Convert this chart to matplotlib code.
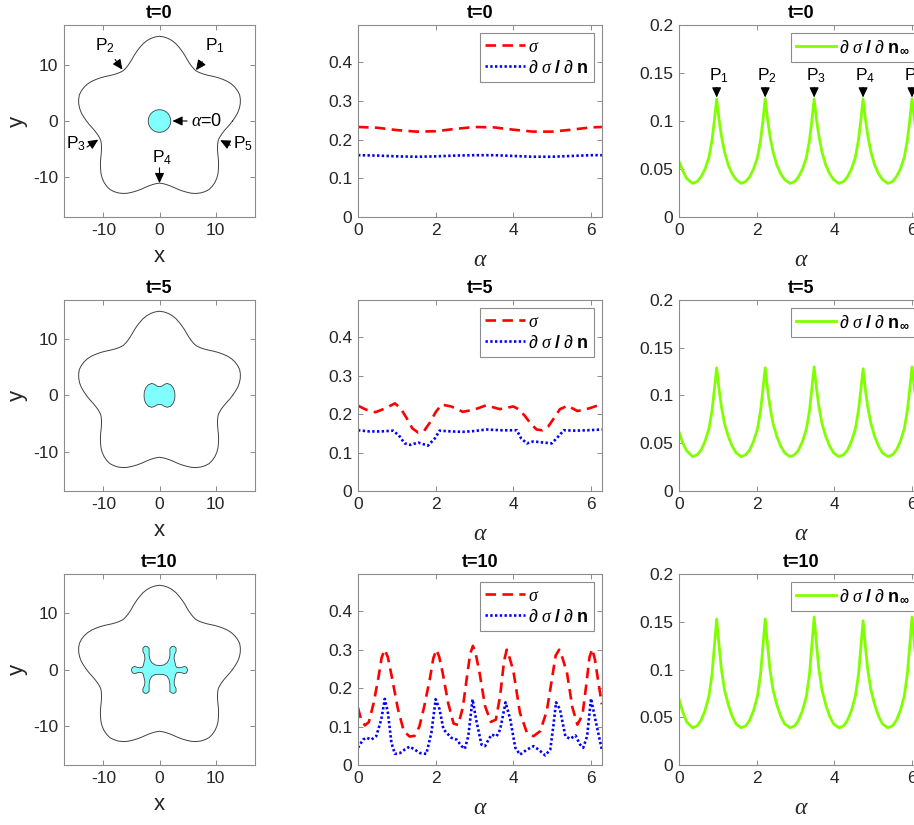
#!/usr/bin/env python3
"""Shrinking inclusion in a five-lobed domain: shape, sigma and its normal
derivatives along the boundary at t=0, 5, 10.

Output:
    out.png
"""

import numpy as np
import matplotlib

matplotlib.use("Agg")
import matplotlib.pyplot as plt  # noqa: E402
from matplotlib.patches import Circle, Polygon  # noqa: E402

W, H = 914, 825
TIMES = ["t=0", "t=5", "t=10"]

# outer boundary: radius read every 3 degrees over one lobe (72 deg), five equal lobes
LOBE_DEG_STEP = 3
LOBE_RADIUS = [13.0, 13.5, 14.0, 14.4, 14.7, 14.9, 15.0, 14.9, 14.7, 14.4, 14.0, 13.5,
               13.0, 12.5, 12.0, 11.6, 11.3, 11.1, 11.0, 11.1, 11.3, 11.6, 12.0, 12.5]
N_LOBES = 5

# inner region
INNER_RADIUS_T0 = 2.0
INNER_T5_X = [2.75, 2.7, 2.45, 2.0, 1.4, 0.9, 0.4, 0.0, -0.4, -0.9, -1.4, -2.0, -2.45, -2.7,
              -2.75, -2.7, -2.45, -2.0, -1.4, -0.9, -0.4, 0.0, 0.4, 0.9, 1.4, 2.0, 2.45, 2.7]
INNER_T5_Y = [0.0, 0.7, 1.35, 1.9, 2.15, 2.0, 1.65, 1.58, 1.65, 2.0, 2.15, 1.9, 1.35, 0.7,
              0.0, -0.7, -1.35, -1.9, -2.1, -1.95, -1.65, -1.58, -1.65, -1.95, -2.1, -1.9, -1.35, -0.7]
INNER_T10_X = [5.0, 4.85, 4.45, 4.0, 3.5, 3.05, 2.85, 2.75, 2.6, 2.65, 2.95, 2.95, 2.6, 2.2,
               1.85, 1.85, 1.85, 1.7, 1.35, 0.75, 0.0, -0.75, -1.35, -1.7, -1.85, -1.85, -1.85,
               -2.2, -2.6, -2.95, -2.95, -2.65, -2.6, -2.75, -2.85, -3.05, -3.5, -4.0, -4.45,
               -4.85, -5.0, -4.85, -4.45, -4.0, -3.5, -3.05, -2.85, -2.75, -2.6, -2.65, -2.95,
               -2.95, -2.6, -2.2, -1.85, -1.85, -1.85, -1.7, -1.35, -0.75, 0.0, 0.75, 1.35, 1.7,
               1.85, 1.85, 1.85, 2.2, 2.6, 2.95, 2.95, 2.65, 2.6, 2.75, 2.85, 3.05, 3.5, 4.0,
               4.45, 4.85]
INNER_T10_Y = [-0.1, 0.35, 0.55, 0.4, 0.3, 0.4, 0.75, 1.3, 1.9, 2.6, 3.2, 3.8, 4.15, 4.1,
               3.75, 3.2, 2.5, 1.8, 1.2, 0.8, 0.7, 0.8, 1.2, 1.8, 2.5, 3.2, 3.75,
               4.1, 4.15, 3.8, 3.2, 2.6, 1.9, 1.3, 0.75, 0.4, 0.3, 0.4, 0.55,
               0.35, -0.1, -0.55, -0.75, -0.6, -0.5, -0.6, -0.95, -1.5, -2.1, -2.8, -3.4,
               -3.95, -4.25, -4.2, -3.9, -3.3, -2.6, -1.8, -1.2, -0.9, -0.85, -0.9, -1.2, -1.8,
               -2.6, -3.3, -3.9, -4.2, -4.25, -3.95, -3.4, -2.8, -2.1, -1.5, -0.95, -0.6, -0.5, -0.6,
               -0.75, -0.55]

# sigma and d sigma / d n along the inner boundary
SIGMA_T0_ALPHA = [0, 0.5, 1.0, 1.5, 2.0, 2.5, 3.0, 3.5, 4.0, 4.5, 5.0, 5.5, 6.0, 6.28]
SIGMA_T0 = [0.233, 0.231, 0.225, 0.221, 0.222, 0.228, 0.233, 0.232, 0.226, 0.221, 0.221,
            0.226, 0.232, 0.233]
DSDN_T0_ALPHA = SIGMA_T0_ALPHA
DSDN_T0 = [0.160, 0.159, 0.157, 0.156, 0.157, 0.159, 0.160, 0.160, 0.158, 0.156, 0.156,
           0.158, 0.160, 0.160]

SIGMA_T5_ALPHA = [0, 0.2, 0.45, 0.7, 0.95, 1.1, 1.25, 1.4, 1.55, 1.7, 1.85, 2.0, 2.15, 2.4,
                  2.7, 3.0, 3.3, 3.65, 4.0, 4.15, 4.3, 4.45, 4.6, 4.75, 4.9, 5.05, 5.2, 5.4,
                  5.65, 5.95, 6.28]
SIGMA_T5 = [0.222, 0.212, 0.205, 0.215, 0.228, 0.215, 0.190, 0.163, 0.152, 0.156, 0.178,
            0.205, 0.225, 0.220, 0.206, 0.212, 0.223, 0.213, 0.220, 0.212, 0.195, 0.175,
            0.160, 0.158, 0.168, 0.190, 0.213, 0.222, 0.208, 0.215, 0.226]
DSDN_T5_ALPHA = [0, 0.3, 0.6, 0.9, 1.05, 1.2, 1.35, 1.55, 1.8, 1.98, 2.1, 2.4, 2.7, 3.0, 3.3,
                 3.7, 4.09, 4.2, 4.35, 4.52, 4.78, 4.99, 5.16, 5.3, 5.6, 5.9, 6.28]
DSDN_T5 = [0.158, 0.155, 0.155, 0.157, 0.145, 0.124, 0.120, 0.126, 0.118, 0.137, 0.157,
           0.155, 0.154, 0.156, 0.160, 0.158, 0.158, 0.137, 0.124, 0.129, 0.126, 0.124,
           0.142, 0.158, 0.157, 0.158, 0.160]

SIGMA_T10_ALPHA = [0.00, 0.08, 0.18, 0.28, 0.40, 0.52, 0.61, 0.69, 0.77, 0.86, 1.03, 1.18,
                   1.33, 1.46, 1.58, 1.70, 1.85, 1.94, 2.02, 2.09, 2.18, 2.32, 2.46, 2.58,
                   2.70, 2.82, 2.89, 2.96, 3.03, 3.13, 3.27, 3.42, 3.55, 3.66, 3.76, 3.83,
                   3.90, 4.00, 4.17, 4.35, 4.52, 4.69, 4.86, 4.98, 5.09, 5.18, 5.26, 5.38,
                   5.52, 5.65, 5.78, 5.88, 5.96, 6.03, 6.10, 6.19, 6.28]
SIGMA_T10 = [0.149, 0.118, 0.103, 0.112, 0.160, 0.224, 0.280, 0.300, 0.280, 0.235, 0.145,
             0.088, 0.074, 0.076, 0.100, 0.150, 0.224, 0.278, 0.300, 0.282, 0.240, 0.162,
             0.108, 0.104, 0.150, 0.240, 0.290, 0.310, 0.290, 0.240, 0.154, 0.112, 0.118,
             0.180, 0.270, 0.300, 0.280, 0.245, 0.136, 0.084, 0.075, 0.088, 0.140, 0.215,
             0.285, 0.300, 0.280, 0.241, 0.150, 0.105, 0.130, 0.210, 0.280, 0.302, 0.275,
             0.215, 0.158]
DSDN_T10_ALPHA = [0.00, 0.13, 0.22, 0.34, 0.47, 0.60, 0.69, 0.77, 0.86, 0.95, 1.08, 1.20,
                  1.33, 1.46, 1.60, 1.76, 1.89, 2.00, 2.10, 2.20, 2.40, 2.54, 2.67, 2.75,
                  2.84, 2.95, 3.05, 3.18, 3.27, 3.36, 3.44, 3.57, 3.66, 3.80, 3.92, 4.05,
                  4.17, 4.35, 4.52, 4.65, 4.82, 4.95, 5.03, 5.10, 5.20, 5.34, 5.46, 5.60,
                  5.72, 5.80, 5.90, 6.00, 6.11, 6.28]
DSDN_T10 = [0.045, 0.066, 0.071, 0.066, 0.075, 0.119, 0.172, 0.136, 0.058, 0.029, 0.031,
            0.040, 0.048, 0.040, 0.031, 0.029, 0.084, 0.171, 0.145, 0.093, 0.071, 0.066,
            0.049, 0.042, 0.075, 0.171, 0.114, 0.053, 0.049, 0.066, 0.079, 0.075, 0.092,
            0.163, 0.119, 0.045, 0.027, 0.040, 0.049, 0.040, 0.025, 0.040, 0.101, 0.163,
            0.145, 0.075, 0.068, 0.077, 0.053, 0.045, 0.075, 0.173, 0.119, 0.040]

# d sigma / d n on the outer boundary (same alpha samples for all three times)
DINF_ALPHA = [0.00, 0.10, 0.20,
              0.35, 0.47, 0.57, 0.67, 0.77, 0.85, 0.91, 0.97, 1.03, 1.09, 1.17, 1.27, 1.37, 1.47,
              1.60, 1.72, 1.82, 1.92, 2.02, 2.10, 2.16, 2.22, 2.28, 2.34, 2.42, 2.52, 2.62, 2.72,
              2.86, 2.98, 3.08, 3.18, 3.28, 3.36, 3.42, 3.48, 3.54, 3.60, 3.68, 3.78, 3.88, 3.98,
              4.12, 4.24, 4.34, 4.44, 4.54, 4.62, 4.68, 4.74, 4.80, 4.86, 4.94, 5.04, 5.14, 5.24,
              5.38, 5.50, 5.60, 5.70, 5.80, 5.88, 5.94, 6.00, 6.06, 6.12, 6.20, 6.28]
DINF_T0 = [0.058, 0.048, 0.040,
           0.035, 0.037, 0.042, 0.050, 0.062, 0.080, 0.100, 0.123, 0.102, 0.085, 0.068, 0.054, 0.045, 0.039,
           0.035, 0.037, 0.042, 0.050, 0.062, 0.080, 0.100, 0.123, 0.102, 0.085, 0.068, 0.054, 0.045, 0.039,
           0.035, 0.037, 0.042, 0.050, 0.062, 0.080, 0.100, 0.123, 0.102, 0.085, 0.068, 0.054, 0.045, 0.039,
           0.035, 0.037, 0.042, 0.050, 0.062, 0.080, 0.100, 0.123, 0.102, 0.085, 0.068, 0.054, 0.045, 0.039,
           0.035, 0.037, 0.042, 0.050, 0.062, 0.080, 0.100, 0.123, 0.102, 0.085, 0.068, 0.055]
DINF_T5 = [0.062, 0.050, 0.042,
           0.036, 0.038, 0.043, 0.052, 0.065, 0.084, 0.106, 0.129, 0.107, 0.089, 0.071, 0.057, 0.047, 0.040,
           0.036, 0.038, 0.043, 0.052, 0.065, 0.084, 0.106, 0.129, 0.107, 0.089, 0.071, 0.057, 0.047, 0.040,
           0.036, 0.038, 0.043, 0.052, 0.065, 0.084, 0.107, 0.130, 0.108, 0.089, 0.071, 0.057, 0.047, 0.040,
           0.036, 0.038, 0.043, 0.052, 0.065, 0.084, 0.105, 0.128, 0.106, 0.088, 0.071, 0.057, 0.047, 0.040,
           0.036, 0.038, 0.043, 0.052, 0.065, 0.084, 0.106, 0.130, 0.108, 0.089, 0.071, 0.058]
DINF_T10 = [0.069, 0.055, 0.045,
            0.039, 0.041, 0.047, 0.057, 0.072, 0.095, 0.124, 0.153, 0.126, 0.101, 0.079, 0.063, 0.051, 0.043,
            0.039, 0.041, 0.047, 0.057, 0.072, 0.095, 0.124, 0.153, 0.126, 0.101, 0.079, 0.063, 0.051, 0.043,
            0.039, 0.041, 0.047, 0.057, 0.072, 0.095, 0.125, 0.155, 0.127, 0.101, 0.079, 0.063, 0.051, 0.043,
            0.039, 0.041, 0.047, 0.057, 0.072, 0.094, 0.122, 0.151, 0.124, 0.100, 0.079, 0.063, 0.051, 0.043,
            0.039, 0.041, 0.047, 0.057, 0.072, 0.095, 0.124, 0.155, 0.127, 0.102, 0.080, 0.066]

SIGMA_SERIES = [(SIGMA_T0_ALPHA, SIGMA_T0), (SIGMA_T5_ALPHA, SIGMA_T5), (SIGMA_T10_ALPHA, SIGMA_T10)]
DSDN_SERIES = [(DSDN_T0_ALPHA, DSDN_T0), (DSDN_T5_ALPHA, DSDN_T5), (DSDN_T10_ALPHA, DSDN_T10)]
DINF_SERIES = [DINF_T0, DINF_T5, DINF_T10]

# labelled points on the outer boundary, t=0 panel: (label, text x, baseline y, tail, tip)
P_ANNOT = [("P$_1$", 9.9, 12.4, (7.6, 10.5), (6.5, 9.0)),
           ("P$_2$", -9.7, 12.4, (-7.9, 10.9), (-6.6, 9.1)),
           ("P$_3$", -14.8, -4.9, (-12.9, -4.6), (-10.9, -3.3)),
           ("P$_4$", 0.4, -7.4, (0.0, -8.3), (0.0, -11.0)),
           ("P$_5$", 14.9, -4.9, (12.6, -4.3), (10.8, -3.4))]

# pixel boxes (left, top, right, bottom) of the 3x3 panels
COL_X = [(64, 255), (358, 602), (679, 923)]
ROW_Y = [(25, 217), (300, 491), (574, 765)]

RED = "#FF0000"
BLUE = "#0000FF"
GREEN = "#80FF00"
CYAN = "#80FFFF"
SPINE = "#8C8C8C"
TXT = "#262626"
ARROW = "-|>,head_length=0.6,head_width=0.28"

plt.rcParams["font.family"] = ["Liberation Sans", "DejaVu Sans"]
plt.rcParams["axes.unicode_minus"] = False
plt.rcParams["mathtext.fontset"] = "custom"
plt.rcParams["mathtext.rm"] = "Liberation Sans"
plt.rcParams["mathtext.it"] = "Liberation Serif:italic"
plt.rcParams["mathtext.bf"] = "Liberation Sans:bold"

LBL_SIGMA = r"$\sigma$"
LBL_DSDN = r"$\partial\ \sigma\ \mathbf{/}\ \partial\ \mathbf{n}$"
LBL_DINF = r"$\partial\ \sigma\ \mathbf{/}\ \partial\ \mathbf{n}_{\mathbf{\infty}}$"
LBL_ALPHA = r"$\alpha$"


def add_panel(fig, col, row):
    x0, x1 = COL_X[col]
    y0, y1 = ROW_Y[row]
    return fig.add_axes([x0 / W, 1 - y1 / H, (x1 - x0) / W, (y1 - y0) / H])


def style(ax, title):
    for s in ax.spines.values():
        s.set_color(SPINE)
        s.set_linewidth(0.8)
    ax.tick_params(direction="in", top=True, right=True, length=3.5, width=0.7,
                   color=SPINE, labelcolor=TXT, labelsize=12.5, pad=4)
    ax.set_title(title, fontsize=13, fontweight="bold", pad=5)


def legend(ax):
    leg = ax.legend(loc="upper right", fancybox=False, framealpha=1, edgecolor=SPINE,
                    fontsize=13, handlelength=2.2, handletextpad=0.15, borderpad=0.3,
                    labelspacing=0.22, borderaxespad=0.45)
    leg.get_frame().set_linewidth(0.8)


def outer_boundary():
    r = np.array(LOBE_RADIUS * N_LOBES)
    th = np.deg2rad(np.arange(len(r)) * LOBE_DEG_STEP)
    return np.append(r * np.cos(th), r[0]), np.append(r * np.sin(th), 0.0)


def main():
    fig = plt.figure(figsize=(W / 100, H / 100), dpi=100)
    bx, by = outer_boundary()
    inner = [None, (INNER_T5_X, INNER_T5_Y), (INNER_T10_X, INNER_T10_Y)]

    for row, title in enumerate(TIMES):
        # left: the domain
        ax = add_panel(fig, 0, row)
        ax.plot(bx, by, color="#404040", lw=0.7)
        if inner[row] is None:
            ax.add_patch(Circle((0, 0), INNER_RADIUS_T0, facecolor=CYAN, edgecolor="#404040", lw=0.6))
        else:
            ax.add_patch(Polygon(np.column_stack(inner[row]), closed=True, facecolor=CYAN,
                                 edgecolor="#404040", lw=0.6))
        ax.set_xlim(-17, 17)
        ax.set_ylim(-17, 17)
        ax.set_xticks([-10, 0, 10])
        ax.set_yticks([-10, 0, 10])
        ax.set_xlabel("x", fontsize=16, color=TXT, labelpad=6)
        ax.set_ylabel("y", fontsize=16, color=TXT, labelpad=4)
        style(ax, title)
        if row == 0:
            for lbl, tx, ty, tail, tip in P_ANNOT:
                ax.text(tx, ty, lbl, fontsize=12.5, ha="center", va="baseline", color="k")
                ax.annotate("", xy=tip, xytext=tail,
                            arrowprops=dict(arrowstyle=ARROW, color="k", lw=0.8,
                                            shrinkA=0, shrinkB=0))
            ax.annotate("", xy=(INNER_RADIUS_T0 + 0.3, 0), xytext=(4.9, 0),
                        arrowprops=dict(arrowstyle=ARROW, color="k", lw=0.8, shrinkA=0, shrinkB=0))
            ax.text(5.6, 0, r"$\alpha$=0", fontsize=13, ha="left", va="center", color="k")

        # middle: sigma and d sigma/dn on the inner boundary
        ax = add_panel(fig, 1, row)
        a, v = SIGMA_SERIES[row]
        ax.plot(a, v, color=RED, lw=1.9, ls=(0, (4, 2.4)), label=LBL_SIGMA)
        a, v = DSDN_SERIES[row]
        ax.plot(a, v, color=BLUE, lw=1.9, ls=(0, (0.9, 0.9)), label=LBL_DSDN)
        ax.set_xlim(0, 2 * np.pi)
        ax.set_ylim(0, 0.497)
        ax.set_xticks([0, 2, 4, 6])
        ax.set_yticks([0, 0.1, 0.2, 0.3, 0.4])
        ax.set_yticklabels(["0", "0.1", "0.2", "0.3", "0.4"])
        ax.set_xlabel(LBL_ALPHA, fontsize=17, color=TXT, labelpad=8)
        style(ax, title)
        legend(ax)

        # right: d sigma/dn on the outer boundary
        ax = add_panel(fig, 2, row)
        vals = DINF_SERIES[row]
        ax.plot(DINF_ALPHA, vals, color=GREEN, lw=2.0, label=LBL_DINF)
        ax.set_xlim(0, 2 * np.pi)
        ax.set_ylim(0, 0.2)
        ax.set_xticks([0, 2, 4, 6])
        ax.set_yticks([0, 0.05, 0.1, 0.15, 0.2])
        ax.set_yticklabels(["0", "0.05", "0.1", "0.15", "0.2"])
        ax.set_xlabel(LBL_ALPHA, fontsize=17, color=TXT, labelpad=8)
        style(ax, title)
        legend(ax)
        if row == 0:
            v = np.array(vals)
            peaks = [i for i in range(1, len(v) - 1) if v[i] > v[i - 1] and v[i] >= v[i + 1]]
            for k, i in enumerate(peaks):
                pa, pv = DINF_ALPHA[i], v[i]
                ax.annotate("", xy=(pa, pv + 0.0015), xytext=(pa, pv + 0.012),
                            arrowprops=dict(arrowstyle=ARROW, color="k", lw=0.8,
                                            shrinkA=0, shrinkB=0))
                ax.text(pa + 0.05, pv + 0.0195, f"P$_{k + 1}$", fontsize=12.5, ha="center",
                        va="baseline", color="k")

    fig.savefig("out.png", dpi=100)


if __name__ == "__main__":
    main()
